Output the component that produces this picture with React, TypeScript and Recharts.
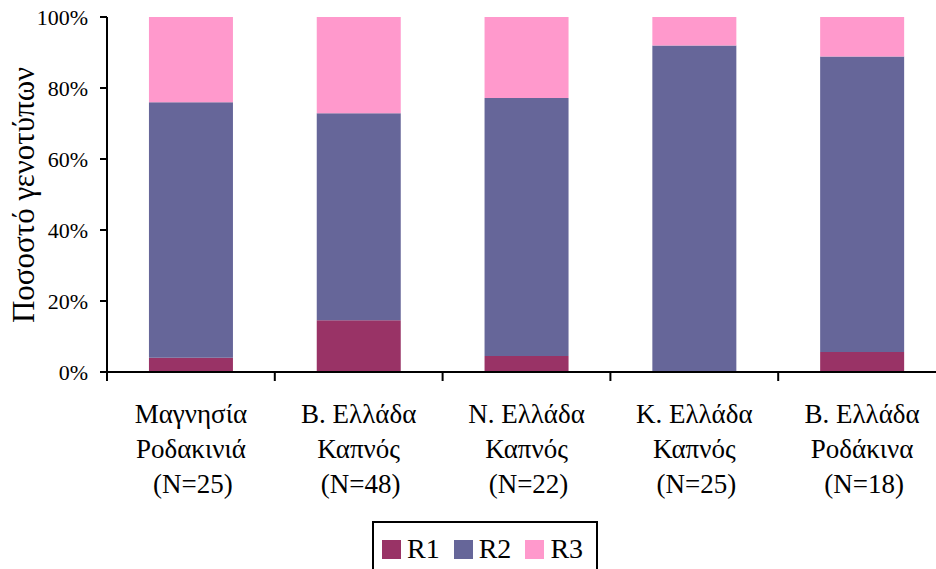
import { Bar, BarChart, XAxis, YAxis } from "recharts";

const regions = ["Μαγνησία", "Β. Ελλάδα", "Ν. Ελλάδα", "Κ. Ελλάδα", "Β. Ελλάδα"];
const hosts = ["Ροδακινιά", "Καπνός", "Καπνός", "Καπνός", "Ροδάκινα"];
const sampleSizes = [25, 48, 22, 25, 18];

// percentage of genotypes per group
const r1 = [4.0, 14.6, 4.5, 0.0, 5.6];
const r2 = [72.0, 58.3, 72.7, 92.0, 83.3];
const r3 = [24.0, 27.1, 22.8, 8.0, 11.1];

const yTicks = [0, 20, 40, 60, 80, 100];

const series = [
  { key: "R1", values: r1, color: "#993366" },
  { key: "R2", values: r2, color: "#666699" },
  { key: "R3", values: r3, color: "#FF99CC" },
];

const FONT = "'Liberation Serif', 'Times New Roman', serif";
const BAND = 839 / 5;

function CategoryTick(props: any) {
  const { x, y, index } = props;
  const lines = [regions[index], hosts[index], `(N=${sampleSizes[index]})`];
  return (
    <g>
      <line x1={x - BAND / 2} x2={x - BAND / 2} y1={y} y2={y + 9} stroke="#000" strokeWidth={2} />
      {lines.map((line, i) => (
        <text
          key={i}
          x={x + (i === 2 ? 2 : 0)}
          y={y + 51 + i * 35}
          textAnchor="middle"
          fontSize={27}
          fontFamily={FONT}
          fill="#000"
        >
          {line}
        </text>
      ))}
    </g>
  );
}

export default function App() {
  const data = regions.map((region, i) => ({
    name: `${region} ${hosts[i]} (N=${sampleSizes[i]})`,
    R1: r1[i],
    R2: r2[i],
    R3: r3[i],
  }));

  return (
    <div style={{ position: "relative", width: 936, height: 569, overflow: "hidden", background: "#fff" }}>
      <style>{"body{margin:0}"}</style>
      <BarChart
        width={946}
        height={569}
        data={data}
        margin={{ top: 17, right: 0, bottom: 87, left: 0 }}
        barCategoryGap="25%"
      >
        <XAxis
          dataKey="name"
          height={110}
          interval={0}
          tickSize={0}
          tickMargin={0}
          tickLine={false}
          axisLine={{ stroke: "#000", strokeWidth: 2 }}
          tick={<CategoryTick />}
        />
        <YAxis
          width={107}
          domain={[0, 100]}
          ticks={yTicks}
          tickFormatter={(v) => `${v}%`}
          tickSize={7}
          tickMargin={12}
          axisLine={{ stroke: "#000", strokeWidth: 2 }}
          tickLine={{ stroke: "#000", strokeWidth: 2 }}
          tick={{ fill: "#000", fontSize: 22, fontFamily: FONT }}
          label={{
            content: () => (
              <text
                transform="translate(23,195) rotate(-90)"
                textAnchor="middle"
                dominantBaseline="central"
                fontSize={31}
                fontFamily={FONT}
                fill="#000"
              >
                Ποσοστό γενοτύπων
              </text>
            ),
          }}
        />
        {series.map((s) => (
          <Bar key={s.key} dataKey={s.key} stackId="a" fill={s.color} isAnimationActive={false} />
        ))}
      </BarChart>
      <div
        style={{
          position: "absolute",
          left: 372,
          top: 521,
          width: 226,
          height: 60,
          border: "2px solid #000",
          display: "flex",
          alignItems: "flex-start",
          paddingTop: 11,
          boxSizing: "border-box",
          fontFamily: FONT,
          fontSize: 28,
          lineHeight: "30px",
        }}
      >
        {series.map((s, i) => (
          <div key={s.key} style={{ display: "flex", alignItems: "center", marginLeft: i === 0 ? 8 : 14 }}>
            <span style={{ display: "inline-block", width: 19, height: 19, background: s.color, marginRight: 6 }} />
            <span>{s.key}</span>
          </div>
        ))}
      </div>
    </div>
  );
}
